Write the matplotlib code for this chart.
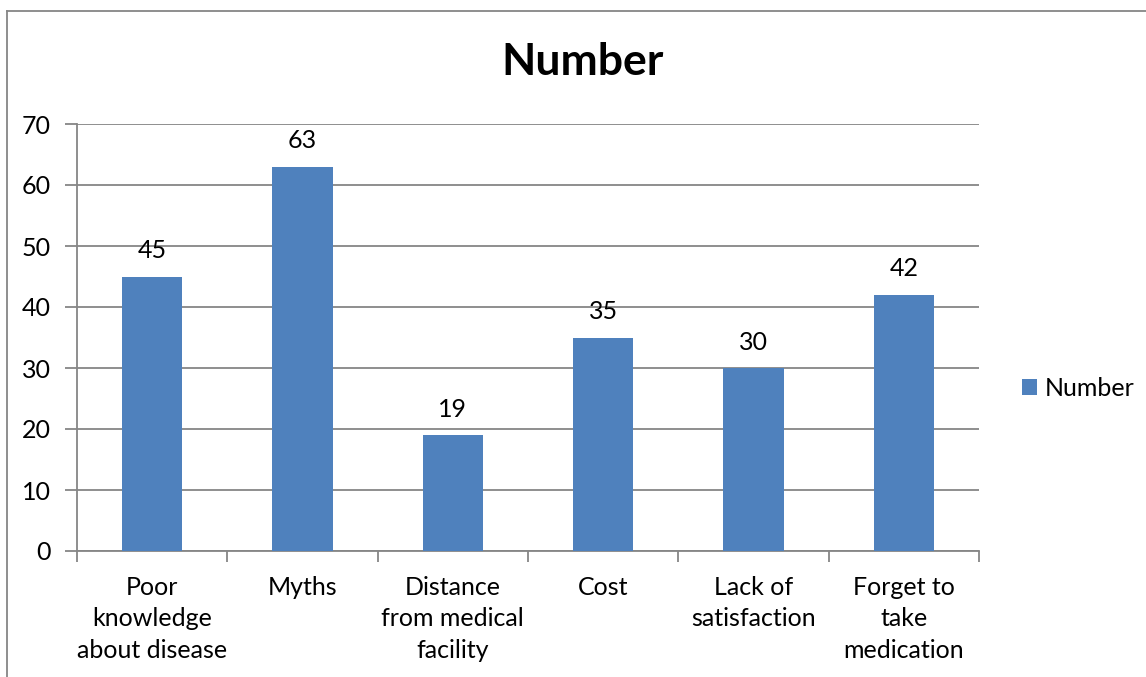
import matplotlib
matplotlib.use("Agg")
import matplotlib.pyplot as plt
from matplotlib.patches import Patch
from matplotlib.lines import Line2D

categories = ["Poor\nknowledge\nabout disease", "Myths", "Distance\nfrom medical\nfacility",
              "Cost", "Lack of\nsatisfaction", "Forget to\ntake\nmedication"]
values = [45, 63, 19, 35, 30, 42]
yticks = [0, 10, 20, 30, 40, 50, 60, 70]
series_name = "Number"

plt.rcParams['font.family'] = ['Lato', 'DejaVu Sans']

W, H = 1146, 677
fig = plt.figure(figsize=(W / 100, H / 100), dpi=100)
ax = fig.add_axes([77 / W, 1 - 551 / H, (979 - 77) / W, (551 - 124) / H])

FS = 18
bar_color = "#4F81BD"
grid_color = "#868686"
x = list(range(len(categories)))
ax.bar(x, values, width=0.4, color=bar_color, zorder=3)
ax.set_xlim(-0.5, len(categories) - 0.5)
ax.set_ylim(0, 70)
ax.set_yticks(yticks)
ax.set_yticklabels([str(t) for t in yticks], fontsize=FS)
ax.yaxis.grid(True, color=grid_color, linewidth=1.3, zorder=0)
ax.tick_params(axis='y', length=9, width=1.3, color=grid_color, pad=10)
ax.set_xticks([i - 0.5 for i in range(len(categories) + 1)])
ax.set_xticklabels([])
ax.set_xticks(x, minor=True)
ax.set_xticklabels(categories, minor=True, fontsize=FS, linespacing=1.44, va='top')
ax.tick_params(axis='x', which='minor', length=0, pad=18)
ax.tick_params(axis='x', which='major', length=8, width=1.3, color=grid_color)
for s in ['top', 'right']:
    ax.spines[s].set_visible(False)
for s in ['left', 'bottom']:
    ax.spines[s].set_color(grid_color)
    ax.spines[s].set_linewidth(1.3)

for xi, v in zip(x, values):
    ax.annotate(str(v), (xi, v), xytext=(0, 26), textcoords='offset pixels',
                ha='center', va='center', fontsize=FS)

fig.text(583 / W, 1 - 62 / H, "Number", ha='center', va='center', fontsize=32, fontweight='bold')

handles = [Patch(facecolor=bar_color, edgecolor='none')]
leg = fig.legend(handles, [series_name], loc='center left', bbox_to_anchor=(1022 / W, 1 - 388 / H),
                 frameon=False, fontsize=FS, handlelength=0.6, handleheight=0.6, handletextpad=0.3,
                 borderpad=0, borderaxespad=0)

# outer chart border (left and top visible)
fig.add_artist(Line2D([7 / W, 7 / W], [0, 1 - 11 / H], transform=fig.transFigure, color="#868686", linewidth=1.3))
fig.add_artist(Line2D([7 / W, 1], [1 - 11 / H, 1 - 11 / H], transform=fig.transFigure, color="#868686", linewidth=1.3))

fig.savefig("out.png", dpi=100)
